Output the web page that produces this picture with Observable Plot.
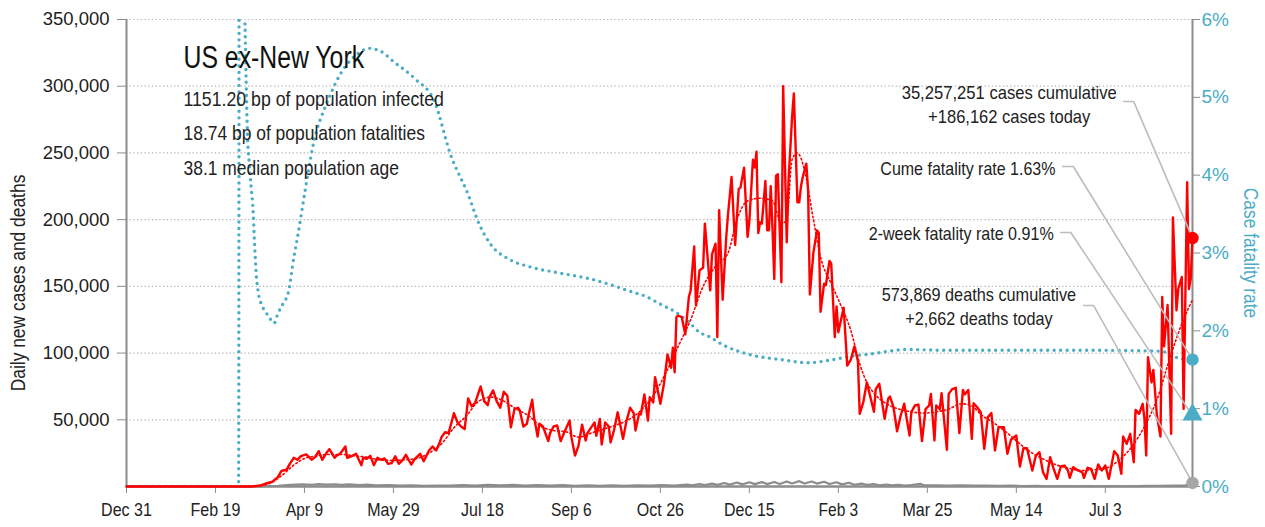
<!DOCTYPE html>
<html><head><meta charset="utf-8">
<script src="https://cdn.jsdelivr.net/npm/d3@7"></script>
<script src="https://cdn.jsdelivr.net/npm/@observablehq/plot@0.6"></script>
<style>
body{margin:0;background:#fff;}
#chart svg{display:block;}
</style></head><body><div id="chart"></div>
<script>
// ---------- DATA ----------
const startDate = Date.UTC(2019, 11, 31); // day 0 = Dec 31, 2019
const lastDay = 599;                       // Aug 21, 2021

// Daily new cases: [day offset, thousands of cases]
const dailyCases = [[0,0],[60,0],[70,0],[75,0.7],[79,2.5],[82,3.7],[85,7],[87,11.5],[88,12],[90,12.7],[92,17.5],[94,21.5],[96,20],[98,22.7],[101,24],[103,21.5],[104,20],[106,22],[108,26.5],[110,20],[112,24.5],[114,28],[117,21.5],[118,23],[120,24.5],[123,30],[124,21.5],[127,23],[129,24.5],[132,16],[133,21.5],[135,20.7],[137,23],[139,16],[141,21.5],[143,20],[145,21],[147,17],[149,17.5],[151,22.7],[153,17],[155,19.5],[157,23.7],[160,16.5],[162,20.7],[165,24.5],[167,19],[170,27],[172,30],[174,27],[176,33],[177,37],[179,40.7],[181,40],[184,55],[186,48],[188,45],[190,43],[192,66],[194,60],[196,63],[199,75],[201,64],[203,61],[204,67],[206,72],[208,64],[210,59],[212,71],[214,68],[216,44.4],[218,58],[220,59],[221,57],[223,45],[225,47],[226,54],[228,65],[229,52],[231,37.5],[232,47],[234,45],[237,34],[238,40],[240,45],[242,45.7],[244,34],[246,40.7],[249,49.4],[250,37],[252,23.2],[254,30.7],[256,46.4],[258,34.5],[259,40],[263,48],[264,38],[266,50.7],[267,31.5],[269,48],[271,45],[272,33],[274,42.5],[276,55.6],[278,42.5],[279,35.7],[281,49.4],[283,59],[285,55],[286,42],[288,54.4],[289,54],[291,69],[293,49.4],[294,67],[296,63],[297,82],[300,62],[302,77],[304,99],[306,89],[307,104],[308,85.6],[309,127],[310,128],[312,127],[314,114],[316,142],[317,147],[319,180],[320,135.6],[322,162],[324,164],[325,197],[328,147],[329,174],[331,182],[332,112],[333,207],[335,140],[337,187],[338,204],[340,232],[342,181],[344,223],[345,224],[347,239],[349,187],[350,199],[352,245],[353,239],[354,251],[355,190],[356,198],[357,197],[359,229],[360,192],[361,192],[362,225],[363,193],[364,155.5],[365,233],[366,234],[368,153],[369,300],[371,183],[372,229],[374,277],[375,294.6],[377,213],[378,213],[379,225],[380,232],[382,242],[383,222],[384,144],[386,175.5],[388,192],[389,190],[390,131],[392,152],[393,151],[395,169],[396,167],[398,112],[399,135],[400,115.6],[401,122],[403,134],[405,90.6],[407,95],[409,105],[411,94],[412,54.4],[414,63],[416,78],[418,67],[420,56],[421,73],[423,77],[426,50.7],[428,65.7],[429,67.4],[431,59.4],[433,41.4],[435,53],[437,62],[440,38.2],[441,55.7],[443,60.7],[445,61.4],[447,34],[449,58],[451,60.7],[452,69.4],[454,34.5],[455,60.7],[457,58],[458,69.9],[461,27.5],[462,69.4],[464,73],[466,74],[468,40],[470,72.4],[471,69],[473,72.4],[475,35.7],[476,62.4],[478,59.4],[480,55.7],[482,28.2],[484,52],[486,55],[488,27],[490,44.4],[493,44.4],[495,24.5],[497,35],[500,38.2],[502,15],[504,28.7],[506,28.7],[509,12],[511,23.2],[513,25.7],[515,10.7],[517,5.7],[519,22],[521,13.2],[523,5.7],[525,15],[527,15.7],[529,12],[530,6.5],[532,14.5],[534,12.5],[537,10.7],[538,6.5],[540,14],[542,13.2],[544,5.7],[546,16.5],[548,12],[550,15.7],[552,5.7],[555,26.5],[557,23.2],[559,9.5],[560,37.5],[562,32],[564,39.5],[566,18.2],[567,57.4],[569,54.4],[571,62],[572,50.7],[573,23.2],[574,96.9],[576,78],[577,87.4],[579,53.4],[581,37.5],[582,142],[583,105],[585,136],[587,39.5],[588,201.7],[590,132],[591,148],[593,157],[594,58.2],[596,228],[597,148],[598,155.6],[599,186.162]];

// 7-day average of cases: [day, thousands]
const avgCases = [[0,0],[70,0],[80,2],[87,8],[94,16],[100,21],[107,23],[114,24],[121,24],[128,23],[135,22],[142,20],[149,19.5],[156,20],[163,21],[170,25],[177,32],[184,44],[191,53],[198,64],[205,67],[212,64],[219,58],[226,53],[233,45],[240,42],[247,41],[254,37],[261,40],[268,43],[275,46],[282,50],[289,57],[296,68],[303,85],[310,105],[317,125],[324,150],[331,165],[338,175],[343,200],[349,214],[356,216],[363,214],[368,197],[371,200],[374,245],[377,250],[381,237],[386,200],[390,172],[396,152],[401,137],[407,117],[412,92],[416,78],[420,70],[427,62],[434,58],[441,56],[448,55],[455,56],[462,58],[469,62],[474,61],[481,53],[488,47],[495,40],[502,32],[509,25],[516,20],[523,16],[530,13.5],[537,12],[544,12.5],[551,14],[558,20],[565,30],[572,45],[579,65],[586,95],[593,122],[599,140]];

// Daily deaths: [day, thousands]
const dailyDeaths = [[0,0],[60,0],[75,0.05],[85,0.5],[92,1.2],[99,1.6],[104,1.3],[108,1.8],[112,1.4],[117,1.7],[121,1.2],[125,1.6],[131,1.0],[135,1.4],[140,0.8],[147,1.1],[154,0.6],[160,0.8],[167,0.5],[175,0.7],[182,0.6],[189,1.0],[196,0.7],[203,1.3],[210,0.8],[217,1.2],[224,0.7],[231,1.1],[238,0.6],[245,1.0],[252,0.5],[259,0.9],[266,0.5],[273,0.8],[280,0.5],[287,0.9],[294,0.6],[301,1.0],[308,0.7],[315,1.4],[318,0.8],[322,1.9],[325,1.0],[329,2.2],[332,1.2],[336,2.6],[339,1.4],[343,3.0],[346,1.6],[350,3.2],[353,1.8],[357,3.3],[360,1.8],[364,3.4],[367,1.9],[371,3.8],[374,2.3],[378,4.0],[381,2.2],[385,3.8],[388,2.2],[392,3.6],[395,1.9],[399,3.2],[402,1.6],[406,2.8],[409,1.3],[413,2.2],[416,1.2],[420,1.8],[423,0.9],[427,1.5],[430,0.8],[434,1.3],[437,0.7],[441,1.1],[446,2.0],[448,0.9],[455,0.8],[462,0.7],[469,0.8],[476,0.6],[483,0.7],[490,0.5],[497,0.6],[504,0.3],[511,0.4],[518,0.2],[525,0.3],[532,0.2],[539,0.3],[546,0.2],[553,0.25],[560,0.2],[567,0.3],[574,0.4],[581,0.5],[588,0.7],[595,0.9],[599,2.662]];

// Cumulative case fatality rate: [day, percent]
const fatalityRate = [[0,0],[63,0],[64,40],[65,12],[66,7],[67,5.5],[68,4.5],[69,4.15],[70,3.85],[71,3.6],[72,3.1],[73,2.7],[74,2.5],[76,2.33],[78,2.25],[80,2.18],[83,2.1],[85,2.22],[88,2.35],[91,2.5],[94,2.94],[96,3.19],[100,3.75],[105,4.4],[113,4.95],[121,5.33],[130,5.56],[136,5.63],[143,5.59],[150,5.46],[162,5.24],[173,4.95],[182,4.27],[192,3.75],[198,3.38],[205,3.1],[215,2.92],[227,2.82],[244,2.74],[260,2.67],[275,2.57],[284,2.5],[291,2.45],[297,2.38],[301,2.33],[308,2.25],[317,2.09],[322,1.98],[327,1.93],[336,1.81],[351,1.69],[368,1.63],[383,1.59],[397,1.63],[409,1.68],[417,1.70],[439,1.76],[460,1.75],[500,1.75],[540,1.75],[579,1.74],[585,1.72],[591,1.65],[599,1.63]];

// Today's values
const todayCases = 186162;
const todayDeaths = 2662;
const cumeRate = 1.63;
const twoWeekRate = 0.91;

// Axis ticks
const caseTicks = [50000,100000,150000,200000,250000,300000,350000];
const rateTicks = [0,1,2,3,4,5,6];
const dateTickDays = [0,50,100,150,200,250,300,350,400,450,500,550];

// Text
const title = "US ex-New York";
const subtitleLines = ["1151.20 bp of population infected","18.74 bp of population fatalities","38.1 median population age"];
const leftLabel = "Daily new cases and deaths";
const rightLabel = "Case fatality rate";

// ---------- helpers ----------
const toDate = d => new Date(startDate + d * 864e5);
const yMax = 350000, rateMax = 6;
const rateToY = p => p / rateMax * yMax;
const teal = "#4bacc6", red = "#ff0000", gray = "#8c8c8c", axisGray = "#8c8c8c";
const FONT = "'Liberation Sans', Arial, sans-serif";

const casesData = dailyCases.map(([d,v]) => ({date: toDate(d), v: v*1000}));
const avgData = avgCases.map(([d,v]) => ({date: toDate(d), v: v*1000}));
const deathsData = dailyDeaths.map(([d,v]) => ({date: toDate(d), v: v*1000}));
const rateData = fatalityRate.map(([d,p]) => ({date: toDate(d), v: rateToY(p)}));

const endDate = toDate(lastDay);

const annotations = [
  {text: "35,257,251 cases cumulative\n+186,162 cases today", date: toDate(496), v: 287000, anchor: "middle"},
  {text: "Cume fatality rate 1.63%", date: toDate(522), v: 239500, anchor: "end"},
  {text: "2-week fatality rate 0.91%", date: toDate(521), v: 190400, anchor: "end"},
  {text: "573,869 deaths cumulative\n+2,662 deaths today", date: toDate(479), v: 135700, anchor: "middle"}
];
const leaders = [
  [[560.3, 288600],[565.9, 288600],[lastDay, todayCases]],
  [[526, 239800],[532, 239800],[lastDay, rateToY(cumeRate)]],
  [[525, 190400],[530.6, 190400],[lastDay, rateToY(twoWeekRate)]],
  [[537.8, 135700],[543.4, 135700],[lastDay, todayDeaths]]
].flatMap((pts, i) => pts.map(([d, v]) => ({id: i, date: toDate(d), v})));

const subtitleRows = subtitleLines.map((t, i) => ({t, i}));

const chart = Plot.plot({
  width: 1265, height: 527,
  marginLeft: 126, marginRight: 73, marginTop: 19, marginBottom: 41,
  x: {type: "utc", domain: [toDate(0), endDate]},
  y: {domain: [0, yMax]},
  style: {fontFamily: FONT, fontSize: "19px", color: "#222", background: "#fff", overflow: "visible"},
  marks: [
    Plot.gridY(caseTicks, {stroke: "#b4b4b4", strokeOpacity: 1, strokeWidth: 1.2, strokeDasharray: "1.3 2.4"}),
    // left axis
    Plot.axisY({ticks: caseTicks, tickFormat: d3.format(","), tickSize: 9, tickPadding: 8, stroke: axisGray, fill: "#222", fontSize: 18.5, label: null}),
    // right axis
    Plot.axisY({anchor: "right", ticks: rateTicks.map(rateToY), tickFormat: d => Math.round(d / yMax * rateMax) + "%", tickSize: 7, tickPadding: 2, stroke: axisGray, fill: teal, fontSize: 19, label: null}),
    // bottom axis
    Plot.axisX({ticks: dateTickDays.map(toDate), tickFormat: d3.utcFormat("%b %-d"), tickSize: 7, tickPadding: 9, stroke: axisGray, fill: "#222", fontSize: 18.5, label: null}),
    Plot.ruleX([toDate(0)], {stroke: axisGray, strokeWidth: 2}),
    Plot.ruleX([endDate], {stroke: axisGray, strokeWidth: 2}),
    // deaths
    Plot.line(deathsData, {x: "date", y: "v", stroke: gray, strokeWidth: 2.2}),
    Plot.ruleY([0], {stroke: axisGray, strokeWidth: 2.5}),
    // fatality rate
    Plot.line(rateData, {x: "date", y: "v", stroke: teal, strokeWidth: 3.4, strokeDasharray: "0 6.5", strokeLinecap: "round", clip: true, curve: "monotone-x"}),
    // cases
    Plot.line(avgData, {x: "date", y: "v", stroke: red, strokeWidth: 1.6, strokeDasharray: "1.6 2.6", curve: "monotone-x"}),
    Plot.line(casesData, {x: "date", y: "v", stroke: red, strokeWidth: 2.4, strokeLinejoin: "round"}),
    // leaders
    Plot.line(leaders, {x: "date", y: "v", z: "id", stroke: "#bdbdbd", strokeWidth: 1.6}),
    // end markers
    Plot.dot([{date: endDate, v: todayCases}], {x: "date", y: "v", r: 5.5, fill: red, stroke: red}),
    Plot.dot([{date: endDate, v: rateToY(cumeRate)}], {x: "date", y: "v", r: 5.5, fill: teal, stroke: teal}),
    Plot.dot([{date: endDate, v: rateToY(twoWeekRate)}], {x: "date", y: "v", r: 6.5, symbol: "triangle", fill: teal, stroke: teal, dy: -1}),
    Plot.dot([{date: endDate, v: todayDeaths}], {x: "date", y: "v", r: 5.5, fill: "#a6a6a6", stroke: "#a6a6a6"}),
    // annotations
    Plot.text(annotations, {filter: d => d.anchor === "middle", x: "date", y: "v", text: "text", textAnchor: "middle", lineAnchor: "middle", lineHeight: 1.25, fontSize: 19, fill: "#222"}),
    Plot.text(annotations, {filter: d => d.anchor === "end", x: "date", y: "v", text: "text", textAnchor: "end", lineAnchor: "middle", lineHeight: 1.25, fontSize: 19, fill: "#222"}),
    // title block
    Plot.text([title], {frameAnchor: "top-left", dx: 57, dy: 39, lineAnchor: "middle", textAnchor: "start", fontSize: 31, fill: "#111"}),
    Plot.text([subtitleRows[0]], {frameAnchor: "top-left", text: "t", dx: 57, dy: 80, lineAnchor: "middle", textAnchor: "start", fontSize: 21, fill: "#222"}),
    Plot.text([subtitleRows[1]], {frameAnchor: "top-left", text: "t", dx: 57, dy: 114, lineAnchor: "middle", textAnchor: "start", fontSize: 21, fill: "#222"}),
    Plot.text([subtitleRows[2]], {frameAnchor: "top-left", text: "t", dx: 57, dy: 149, lineAnchor: "middle", textAnchor: "start", fontSize: 21, fill: "#222"}),
    // axis titles
    Plot.text([leftLabel], {frameAnchor: "left", dx: -108, dy: 30, rotate: -90, textAnchor: "middle", lineAnchor: "middle", fontSize: 20, fill: "#222"}),
    Plot.text([rightLabel], {frameAnchor: "right", dx: 58, dy: 0, rotate: 90, textAnchor: "middle", lineAnchor: "middle", fontSize: 20, fill: teal})
  ]
});
document.getElementById("chart").appendChild(chart);

// Condense the glyphs horizontally (the reference uses a narrow typeface).
// Each text is re-anchored at its start so the squeeze keeps the original anchor point.
function squeezeFactor(s) {
  if (s === leftLabel || s === rightLabel) return 0.87;
  const n = s.length || 1;
  const dig = (s.match(/[0-9,.%]/g) || []).length;
  return 0.8 + 0.2 * dig / n;
}
chart.querySelectorAll("text").forEach(t => {
  const spans = t.querySelectorAll("tspan");
  const els = (spans.length ? Array.from(spans) : [t]).filter(el => el.textContent);
  if (!els.length) return;
  const anchor = getComputedStyle(t).textAnchor;
  const info = els.map(el => {
    const L = el.getComputedTextLength();
    return {el, Lnew: L * squeezeFactor(el.textContent)};
  });
  t.setAttribute("text-anchor", "start");
  t.style.textAnchor = "start";
  info.forEach(({el, Lnew}) => {
    const x0 = parseFloat(el.getAttribute("x") || "0") || 0;
    const shift = anchor === "end" ? -Lnew : anchor === "middle" ? -Lnew / 2 : 0;
    el.setAttribute("x", (x0 + shift).toFixed(2));
    el.setAttribute("textLength", Lnew.toFixed(2));
    el.setAttribute("lengthAdjust", "spacingAndGlyphs");
  });
});
</script>
</body></html>
